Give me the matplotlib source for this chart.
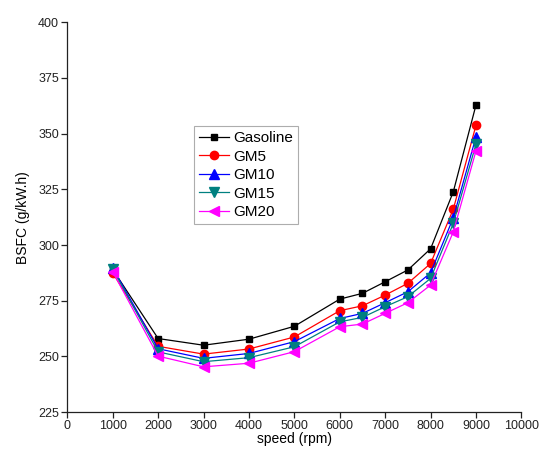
import matplotlib.pyplot as plt

plt.rcParams['font.family'] = ['Liberation Sans', 'DejaVu Sans']

speed = [1000, 2000, 3000, 4000, 5000, 6000, 6500, 7000, 7500, 8000, 8500, 9000]

gasoline = [289.0, 258.0, 255.0, 257.7, 263.5, 275.7, 278.3, 283.5, 288.8, 298.3, 323.9, 362.9]
gm5 = [287.5, 254.5, 251.0, 253.3, 258.7, 270.5, 272.7, 277.5, 282.8, 291.7, 316.1, 353.8]
gm10 = [289.7, 253.4, 249.1, 251.3, 256.6, 267.0, 269.3, 274.1, 279.0, 287.5, 312.2, 348.6]
gm15 = [289.2, 252.0, 247.6, 249.4, 254.3, 265.5, 267.5, 272.3, 276.8, 285.0, 309.7, 345.3]
gm20 = [288.0, 250.1, 245.3, 246.9, 252.1, 263.3, 264.5, 269.3, 274.1, 282.0, 305.9, 342.3]

series = [
    ("Gasoline", gasoline, "black", "s", 5),
    ("GM5", gm5, "red", "o", 6),
    ("GM10", gm10, "blue", "^", 6.5),
    ("GM15", gm15, "#008080", "v", 6.5),
    ("GM20", gm20, "magenta", "<", 6.5),
]

fig = plt.figure(figsize=(5.41, 4.5), dpi=100)
ax = fig.add_axes([0.1244, 0.0844, 0.8394, 0.866])

for name, vals, color, marker, ms in series:
    ax.plot(speed, vals, color=color, marker=marker, markersize=ms,
            linewidth=0.9, label=name)

ax.set_xlim(0, 10000)
ax.set_ylim(225, 400)
ax.set_xticks(range(0, 10001, 1000))
ax.set_yticks(range(225, 401, 25))

for side in ("top", "right"):
    ax.spines[side].set_visible(False)
for side in ("left", "bottom"):
    ax.spines[side].set_linewidth(0.9)
    ax.spines[side].set_color("#222222")

ax.tick_params(direction="out", length=4, width=0.9, labelsize=9,
               colors="#222222", pad=2)

ax.set_xlabel("speed (rpm)", fontsize=10, labelpad=0)
ax.set_ylabel("BSFC (g/kW.h)", fontsize=10, labelpad=6)

leg = ax.legend(loc="upper left", bbox_to_anchor=(0.279, 0.733), fontsize=11,
                frameon=True, fancybox=False, handlelength=2.0,
                handletextpad=0.3, borderpad=0.3, labelspacing=0.3,
                borderaxespad=0)
leg.get_frame().set_edgecolor("#999999")
leg.get_frame().set_linewidth(0.8)

fig.savefig("out.png", dpi=100)
